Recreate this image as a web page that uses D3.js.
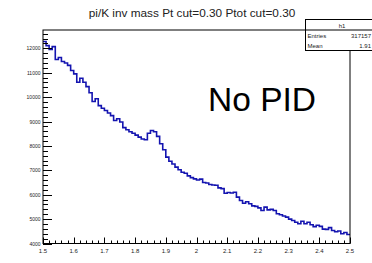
<!DOCTYPE html>
<html><head><meta charset="utf-8">
<script src="https://cdn.jsdelivr.net/npm/d3@7"></script>
<style>html,body{margin:0;padding:0;background:#fff;}svg{display:block;font-family:"Liberation Sans",Arial,sans-serif;}</style>
</head><body>
<script>
const titleText = "pi/K inv mass Pt cut=0.30  Ptot cut=0.30";
const xDomain = [1.5, 2.5];
const yDomain = [4000, 12750];
const xTicks = [1.5,1.6,1.7,1.8,1.9,2.0,2.1,2.2,2.3,2.4,2.5];
const xTickLabels = ["1.5","1.6","1.7","1.8","1.9","2","2.1","2.2","2.3","2.4","2.5"];
const yTicks = [4000,5000,6000,7000,8000,9000,10000,11000,12000];
const counts = [
12280,12110,11950,12070,11540,11620,11460,11400,11300,11090,
10950,10610,10770,10610,10430,10180,9820,9930,9650,9540,
9450,9350,9240,9040,9110,8980,8750,8660,8580,8520,
8440,8360,8280,8250,8520,8630,8580,8390,8090,7840,
7540,7370,7260,7130,7020,6920,6880,6770,6700,6650,
6600,6640,6500,6480,6420,6400,6390,6280,6250,6060,
6090,6070,6100,5900,5760,5650,5710,5630,5540,5520,
5460,5350,5490,5380,5400,5350,5220,5180,5130,5080,
5000,4940,4870,4810,4910,4810,4870,4770,4690,4750,
4700,4590,4580,4650,4530,4480,4510,4400,4450,4370];
const statsLabels = ["Entries","Mean"];
const statsValues = ["317157","1.91"];
const histName = "h1";
const annotation = "No PID";

const W=372,H=263;
const L=43,R=350,T=30,B=243.5;
const svg=d3.select("body").append("svg").attr("width",W).attr("height",H);
const x=d3.scaleLinear().domain(xDomain).range([L,R]);
const y=d3.scaleLinear().domain(yDomain).range([B,T]);

// title
svg.append("text").attr("x",192).attr("y",17).attr("text-anchor","middle")
  .attr("font-size",11.8).attr("fill","#222").text(titleText);

// histogram
const nb=counts.length, bw=(xDomain[1]-xDomain[0])/nb;
const pts=counts.map((c,i)=>[xDomain[0]+i*bw,c]);
pts.push([xDomain[1],counts[nb-1]]);
const line=d3.line().x(d=>x(d[0])).y(d=>y(d[1])).curve(d3.curveStepAfter);
svg.append("path").attr("d",line(pts)).attr("fill","none")
  .attr("stroke","#1414b0").attr("stroke-width",1.6);

// frame
svg.append("rect").attr("x",L).attr("y",T).attr("width",R-L).attr("height",B-T)
  .attr("fill","none").attr("stroke","#000").attr("stroke-width",1);

// y ticks
const g=svg.append("g").attr("stroke","#000").attr("stroke-width",1);
for(let v=4000; v<=yDomain[1]; v+=200){
  const major = v%1000===0;
  g.append("line").attr("x1",L).attr("x2",L+(major?9:5)).attr("y1",Math.round(y(v))+0.5).attr("y2",Math.round(y(v))+0.5);
}
// x ticks
for(let i=0;i<=50;i++){
  const v=xDomain[0]+i*0.02;
  const major=i%5===0;
  const px=Math.round(x(v))+0.5;
  g.append("line").attr("x1",px).attr("x2",px).attr("y1",B).attr("y2",B-(major?6:3));
}
svg.selectAll(".yl").data(yTicks).enter().append("text")
  .attr("x",40.5).attr("y",d=>y(d)+2).attr("text-anchor","end")
  .attr("font-size",5).attr("fill","#222").text(d=>d);
svg.selectAll(".xl").data(xTicks).enter().append("text")
  .attr("x",(d)=>x(d)).attr("y",253).attr("text-anchor","middle")
  .attr("font-size",6).attr("fill","#222").text((d,i)=>xTickLabels[i]);

// stats box
const sb=svg.append("g");
sb.append("rect").attr("x",305.5).attr("y",19.5).attr("width",80).attr("height",31)
  .attr("fill","#fff").attr("stroke","#000").attr("stroke-width",1);
sb.append("line").attr("x1",305.5).attr("x2",386).attr("y1",30).attr("y2",30).attr("stroke","#000");
sb.append("text").attr("x",342).attr("y",27.5).attr("text-anchor","middle").attr("font-size",6).attr("fill","#222").text(histName);
statsLabels.forEach((s,i)=>{
  sb.append("text").attr("x",307.5).attr("y",38+i*9.5).attr("font-size",6).attr("fill","#222").text(s);
  sb.append("text").attr("x",371).attr("y",38+i*9.5).attr("text-anchor","end").attr("font-size",6).attr("fill","#222").text(statsValues[i]);
});
// annotation
svg.append("text").attr("x",208).attr("y",111).attr("font-size",33.5).attr("fill","#000").text(annotation);
</script>
</body></html>
